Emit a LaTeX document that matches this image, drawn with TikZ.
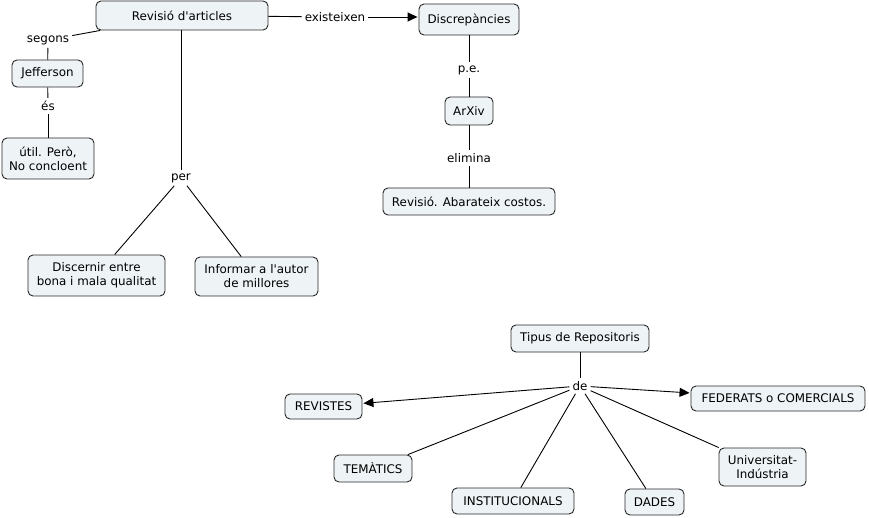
\documentclass[tikz,border=0pt]{standalone}
\usepackage{fontspec}
\setmainfont{DejaVu Sans}[Ligatures=TeXOff]
\usetikzlibrary{arrows.meta}
\definecolor{boxfill}{RGB}{238,243,246}
\definecolor{boxline}{RGB}{40,40,40}
\tikzset{
  box/.style={draw=boxline, fill=boxfill, rounded corners=5pt, line width=0.9pt, align=center, inner sep=2pt, font=\fontsize{11.9}{14}\selectfont},
  lab/.style={inner sep=3pt, font=\fontsize{11.9}{14}\selectfont},
  conn/.style={line width=0.9pt, draw=black},
  arr/.style={conn, -{Triangle[length=10pt,width=9pt]}, shorten >=1pt},
}
\begin{document}
\begin{tikzpicture}[x=1pt,y=-1pt]
\useasboundingbox (0,0) rectangle (869,518);
% boxes
\node[box, minimum width=172, minimum height=29] (rev) at (182,15.5) {Revisió d'articles};
\node[box, minimum width=100, minimum height=31] (disc) at (469,19.5) {Discrepàncies};
\node[box, minimum width=48, minimum height=28] (arxiv) at (469,111) {ArXiv};
\node[box, minimum width=172, minimum height=27] (revab) at (469,201.5) {Revisió. Abarateix costos.};
\node[box, minimum width=71, minimum height=27] (jeff) at (47.5,73.5) {Jefferson};
\node[box, minimum width=92, minimum height=41] (util) at (48,158.5) {útil. Però,\\No concloent};
\node[box, minimum width=137, minimum height=41] (disce) at (96.5,275.5) {Discernir entre\\bona i mala qualitat};
\node[box, minimum width=123, minimum height=39] (info) at (256.5,276.5) {Informar a l'autor\\de millores};
\node[box, minimum width=138, minimum height=27] (tipus) at (580,338.5) {Tipus de Repositoris};
\node[box, minimum width=77, minimum height=25] (revis) at (323.5,406.5) {REVISTES};
\node[box, minimum width=174, minimum height=25] (feder) at (778,398.5) {FEDERATS o COMERCIALS};
\node[box, minimum width=78, minimum height=27] (temat) at (373,468.5) {TEMÀTICS};
\node[box, minimum width=122, minimum height=26] (inst) at (513,501) {INSTITUCIONALS};
\node[box, minimum width=59, minimum height=26] (dades) at (654.5,502) {DADES};
\node[box, minimum width=87, minimum height=38] (univ) at (762.5,467) {Universitat-\\Indústria};
% labels
\node[lab] (segons) at (48,40) {segons};
\node[lab] (es) at (48,106) {és};
\node[lab] (per) at (181,178) {per};
\node[lab] (exist) at (335,17) {existeixen};
\node[lab] (pe) at (469,70) {p.e.};
\node[lab] (elim) at (469,158) {elimina};
\node[lab] (de) at (580,386) {de};
% connectors
\draw[conn] (rev) -- (segons);
\draw[conn] (segons) -- (jeff);
\draw[conn] (jeff) -- (es);
\draw[conn] (es) -- (util);
\draw[conn] (rev.south -| per) -- (per);
\draw[conn] (per) -- (disce);
\draw[conn] (per) -- (info);
\draw[conn] (rev) -- (exist);
\draw[arr] (exist) -- (disc.west |- exist);
\draw[conn] (disc) -- (pe);
\draw[conn] (pe) -- (arxiv);
\draw[conn] (arxiv) -- (elim);
\draw[conn] (elim) -- (revab);
\draw[conn] (tipus) -- (de);
\draw[arr] (de) -- (revis);
\draw[arr] (de) -- (feder);
\draw[conn] (de) -- (temat);
\draw[conn] (de) -- (inst);
\draw[conn] (de) -- (dades);
\draw[conn] (de) -- (univ);
\end{tikzpicture}
\end{document}
